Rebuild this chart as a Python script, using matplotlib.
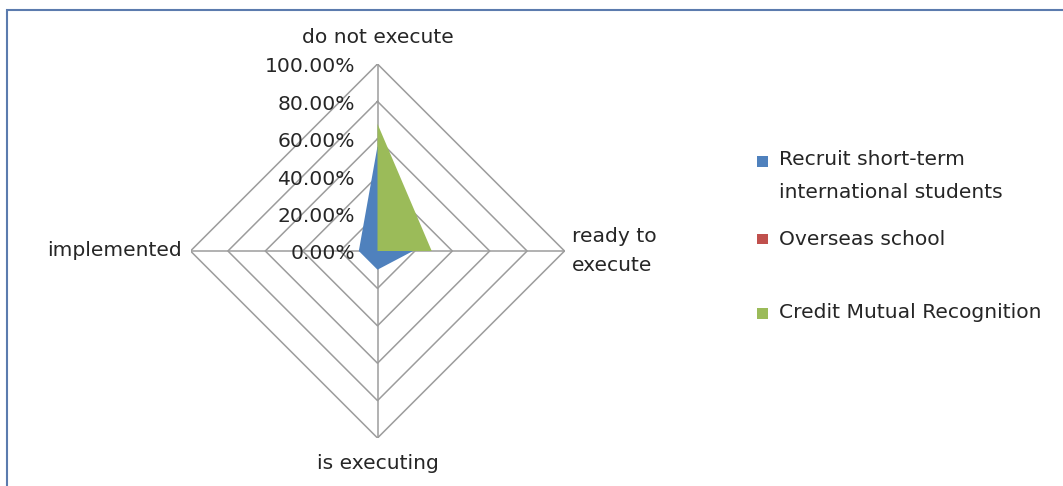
import matplotlib.pyplot as plt
import numpy as np
from matplotlib.patches import Rectangle

# Data
categories = ["do not execute", "ready to\nexecute", "is executing", "implemented"]
series_names = ["Recruit short-term\ninternational students", "Overseas school", "Credit Mutual Recognition"]
recruit = [0.56, 0.19, 0.10, 0.10]
overseas = [0.0, 0.0, 0.0, 0.0]
credit = [0.68, 0.29, 0.0, 0.0]
ticks = [0.0, 0.2, 0.4, 0.6, 0.8, 1.0]
tick_labels = ["0.00%", "20.00%", "40.00%", "60.00%", "80.00%", "100.00%"]

colors = ["#4F81BD", "#C0504D", "#9BBB59"]
grid_color = "#9C9C9C"
text_color = "#262626"
plt.rcParams['font.family'] = ['DejaVu Sans']
fs = 14.6

W, H = 1063, 486
fig = plt.figure(figsize=(W / 100, H / 100), dpi=100)
fig.patch.set_facecolor("white")

# chart border (only top/left visible in the crop)
fig.add_artist(Rectangle((7 / W, -0.2), 1.2, (486 - 10) / H + 0.2, transform=fig.transFigure,
                         fill=False, edgecolor="#5B7BAE", linewidth=1.5))

# Radar area: centre (377.5, 251) px, radius 187 px
cx, cy, r = 377.5, 251, 187
ax = fig.add_axes([(cx - r) / W, (H - cy - r) / H, 2 * r / W, 2 * r / H])
ax.set_xlim(-1, 1)
ax.set_ylim(-1, 1)
ax.set_aspect("equal")
ax.axis("off")

# angles: top, right, bottom, left (clockwise)
angles = np.deg2rad([90, 0, -90, 180])
ux, uy = np.cos(angles), np.sin(angles)

def to_xy(vals):
    vals = np.asarray(vals)
    x = np.append(vals * ux, vals[0] * ux[0])
    y = np.append(vals * uy, vals[0] * uy[0])
    return x, y

# grid diamonds
for t in ticks[1:]:
    gx, gy = to_xy([t] * 4)
    ax.plot(gx, gy, color=grid_color, lw=1.1, zorder=1)
# spokes
for a, b in zip(ux, uy):
    ax.plot([0, a], [0, b], color=grid_color, lw=1.1, zorder=1)

# filled series
for vals, c in zip([recruit, overseas, credit], colors):
    sx, sy = to_xy(vals)
    ax.fill(sx, sy, color=c, lw=0, zorder=2)

# tick labels along the top axis
for t, lab in zip(ticks, tick_labels):
    ax.text(-0.12, t - 0.015, lab, ha="right", va="center", fontsize=fs, color=text_color, clip_on=False)

# category labels
ax.text(0, 1.14, categories[0], ha="center", va="center", fontsize=fs, color=text_color, clip_on=False)
ax.text(1.04, 0.0, categories[1], ha="left", va="center", fontsize=fs, color=text_color,
        linespacing=1.7, clip_on=False)
ax.text(0, -1.135, categories[2], ha="center", va="center", fontsize=fs, color=text_color, clip_on=False)
ax.text(-1.045, 0.0, categories[3], ha="right", va="center", fontsize=fs, color=text_color, clip_on=False)

# legend (manual, Excel spacing)
leg_y = [162, 239, 313]
for name, c, yy in zip(series_names, colors, leg_y):
    fig.add_artist(Rectangle((757 / W, (H - yy - 5.5) / H), 11 / W, 11 / H, transform=fig.transFigure,
                             facecolor=c, edgecolor="none"))
    if "\n" in name:
        fig.text(779 / W, (H - yy + 12) / H, name, ha="left", va="top", fontsize=fs,
                 color=text_color, linespacing=1.9)
    else:
        fig.text(779 / W, (H - yy) / H, name, ha="left", va="center", fontsize=fs, color=text_color)

fig.savefig("out.png", dpi=100)
